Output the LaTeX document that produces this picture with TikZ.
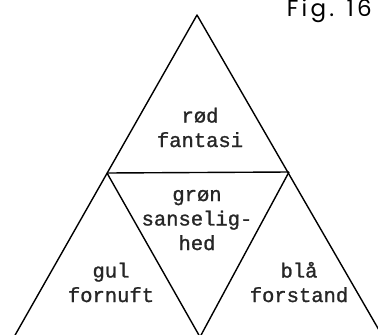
\documentclass[tikz,border=0pt]{standalone}
\usepackage{fontspec}
\newfontfamily\typefont[FakeBold=1.2]{Liberation Mono}
\newfontfamily\figfont[LetterSpace=14]{Poppins}

\begin{document}
\begin{tikzpicture}[x=1pt, y=-1pt,
	edge/.style={line width=1.4pt, line join=round},
	lbl/.style={font=\typefont\fontsize{20.5}{24.5}\selectfont, align=center, anchor=base, text=black!85, inner sep=0pt},
	figlbl/.style={font=\figfont\fontsize{23}{25}\selectfont, anchor=base east, inner sep=0pt}]
	\useasboundingbox (0,0) rectangle (378,335);
	\clip (0,0) rectangle (378,335);
	% corners of the big triangle and the middle one
	\coordinate (apex) at (197,15);
	\coordinate (ml) at (107,173);
	\coordinate (mr) at (289,172);
	\coordinate (bl) at (14,337);
	\coordinate (bm) at (200,337);
	\coordinate (br) at (383,337);
	\draw[edge] (bl) -- (apex) -- (br);
	\draw[edge] (ml) -- (mr);
	\draw[edge] (ml) -- (bm) -- (mr);
	% the last line of each label sits on the given baseline
	\node[lbl] (rod) at (200,147) {rød\\fantasi};
	\node[lbl] (gron) at (197,250) {grøn\\sanselig-\\hed};
	\node[lbl] (gul) at (111,302) {gul\\fornuft};
	\node[lbl] (bla) at (299,302) {blå\\forstand};
	\node[figlbl] (fig) at (372,16) {Fig. 16};
\end{tikzpicture}
\end{document}
